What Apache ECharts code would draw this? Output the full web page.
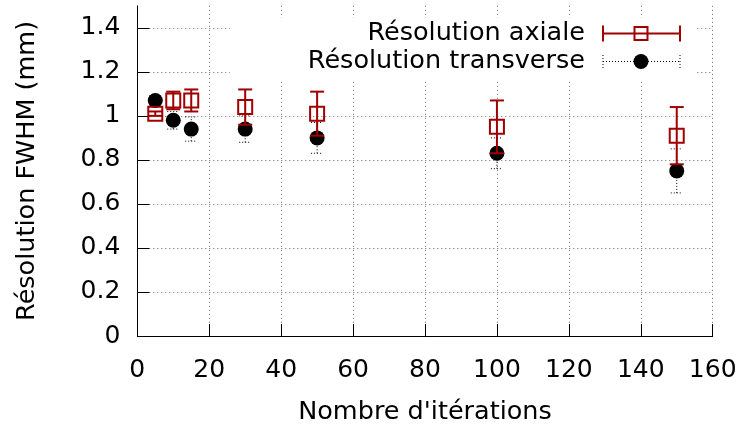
<!DOCTYPE html>
<html>
<head>
<meta charset="utf-8">
<script src="https://cdn.jsdelivr.net/npm/echarts@6/dist/echarts.min.js"></script>
<style>
  html, body { margin: 0; padding: 0; background: #fff; }
  #chart { width: 742px; height: 430px; }
</style>
</head>
<body>
<div id="chart"></div>
<script>
// Number of iterations of the reconstruction
const iterations = [5, 10, 15, 30, 50, 100, 150];
// Axial resolution (mm) and its uncertainty
const axial = [1.01, 1.07, 1.07, 1.04, 1.01, 0.95, 0.91];
const axialErr = [0.01, 0.04, 0.05, 0.08, 0.10, 0.12, 0.13];
// Transverse resolution (mm) and its uncertainty
const transverse = [1.07, 0.98, 0.94, 0.94, 0.90, 0.83, 0.75];
const transverseErr = [0.02, 0.04, 0.055, 0.06, 0.07, 0.07, 0.10];
// Labelled ticks on the value axis
const yTicks = [0, 0.2, 0.4, 0.6, 0.8, 1, 1.2, 1.4];

const RED = '#a00000';
const FONT = 'DejaVu Sans';
const TICK_SIZE = 25;
const TITLE_SIZE = 25.5;

const points = (ys) => iterations.map((x, i) => [x, ys[i]]);
const bars = (ys, es) => iterations.map((x, i) => [x, ys[i] - es[i], ys[i] + es[i]]);

// Vertical error bar with end caps
function errorBar(style, capHalf) {
  return function (params, api) {
    const x = api.value(0);
    const lo = api.coord([x, api.value(1)]);
    const hi = api.coord([x, api.value(2)]);
    const seg = (x1, y1, x2, y2) => ({
      type: 'line',
      shape: { x1, y1, x2, y2 },
      style: style
    });
    return {
      type: 'group',
      children: [
        seg(lo[0], lo[1], hi[0], hi[1]),
        seg(lo[0] - capHalf, lo[1], lo[0] + capHalf, lo[1]),
        seg(hi[0] - capHalf, hi[1], hi[0] + capHalf, hi[1])
      ]
    };
  };
}

const redStroke = { stroke: RED, lineWidth: 2, fill: null };
const dotStroke = { stroke: '#000', lineWidth: 1, lineDash: [1, 2], fill: null };
const gridLine = { color: '#6a6a6a', type: [1, 3], width: 1 };

const chart = echarts.init(document.getElementById('chart'), null, { renderer: 'canvas' });

chart.setOption({
  animation: false,
  backgroundColor: '#fff',
  textStyle: { fontFamily: FONT },
  grid: { left: 137.3, right: 29.3, top: 5.8, bottom: 90.7, containLabel: false },
  xAxis: {
    type: 'value',
    min: 0, max: 160, interval: 20,
    name: "Nombre d'itérations",
    nameLocation: 'middle',
    nameGap: 63,
    nameTextStyle: { fontSize: TITLE_SIZE, color: '#000', fontFamily: FONT },
    axisLine: { show: true, lineStyle: { color: '#000', width: 1 } },
    axisTick: { show: true, inside: true, length: 12, lineStyle: { color: '#000' } },
    axisLabel: { fontSize: TICK_SIZE, color: '#000', margin: 22, fontFamily: FONT },
    splitLine: { show: true, showMinLine: false, lineStyle: gridLine }
  },
  yAxis: {
    type: 'value',
    min: 0, max: 1.5, interval: 0.2,
    name: 'Résolution FWHM (mm)',
    nameLocation: 'middle',
    nameGap: 97,
    nameTextStyle: { fontSize: TITLE_SIZE, color: '#000', fontFamily: FONT },
    axisLine: { show: true, lineStyle: { color: '#000', width: 1 } },
    axisTick: { show: true, inside: true, length: 12, customValues: yTicks, lineStyle: { color: '#000' } },
    axisLabel: { fontSize: TICK_SIZE, color: '#000', margin: 17, customValues: yTicks, fontFamily: FONT },
    splitLine: { show: true, showMinLine: false, lineStyle: gridLine }
  },
  series: [
    {
      name: 'Résolution transverse (barres)',
      type: 'custom',
      renderItem: errorBar(dotStroke, 6),
      data: bars(transverse, transverseErr),
      encode: { x: 0, y: [1, 2] },
      z: 2
    },
    {
      name: 'Résolution transverse',
      type: 'scatter',
      symbol: 'circle',
      symbolSize: 15,
      itemStyle: { color: '#000', opacity: 1 },
      data: points(transverse),
      z: 3
    },
    {
      name: 'Résolution axiale (barres)',
      type: 'custom',
      renderItem: errorBar(redStroke, 7),
      data: bars(axial, axialErr),
      encode: { x: 0, y: [1, 2] },
      z: 4
    },
    {
      name: 'Résolution axiale',
      type: 'scatter',
      symbol: 'rect',
      symbolSize: 14,
      itemStyle: { color: 'rgba(0,0,0,0)', borderColor: RED, borderWidth: 2, opacity: 1 },
      data: points(axial),
      z: 5
    }
  ],
  graphic: [
    // opaque key box over the grid
    { type: 'rect', shape: { x: 230, y: 18, width: 466, height: 61 }, style: { fill: '#fff' }, z: 100 },
    { type: 'text', x: 585, y: 33.5, z: 101,
      style: { text: 'Résolution axiale', font: TITLE_SIZE + 'px "DejaVu Sans"', fill: '#000', align: 'right', verticalAlign: 'middle' } },
    { type: 'text', x: 585, y: 61.5, z: 101,
      style: { text: 'Résolution transverse', font: TITLE_SIZE + 'px "DejaVu Sans"', fill: '#000', align: 'right', verticalAlign: 'middle' } },
    // axial sample: horizontal error bar with square
    { type: 'line', z: 101, shape: { x1: 603, y1: 33.5, x2: 680, y2: 33.5 }, style: { stroke: RED, lineWidth: 2 } },
    { type: 'line', z: 101, shape: { x1: 603, y1: 25.5, x2: 603, y2: 41.5 }, style: { stroke: RED, lineWidth: 2 } },
    { type: 'line', z: 101, shape: { x1: 680, y1: 25.5, x2: 680, y2: 41.5 }, style: { stroke: RED, lineWidth: 2 } },
    { type: 'rect', z: 102, shape: { x: 634.5, y: 27, width: 13, height: 13 }, style: { fill: null, stroke: RED, lineWidth: 2 } },
    // transverse sample: dotted error bar with disc
    { type: 'line', z: 101, shape: { x1: 603, y1: 61.5, x2: 680, y2: 61.5 }, style: { stroke: '#000', lineWidth: 1, lineDash: [1, 2] } },
    { type: 'line', z: 101, shape: { x1: 603, y1: 55, x2: 603, y2: 68 }, style: { stroke: '#000', lineWidth: 1, lineDash: [1, 2] } },
    { type: 'line', z: 101, shape: { x1: 680, y1: 55, x2: 680, y2: 68 }, style: { stroke: '#000', lineWidth: 1, lineDash: [1, 2] } },
    { type: 'circle', z: 102, shape: { cx: 641, cy: 61.5, r: 7.5 }, style: { fill: '#000' } }
  ]
});
</script>
</body>
</html>
